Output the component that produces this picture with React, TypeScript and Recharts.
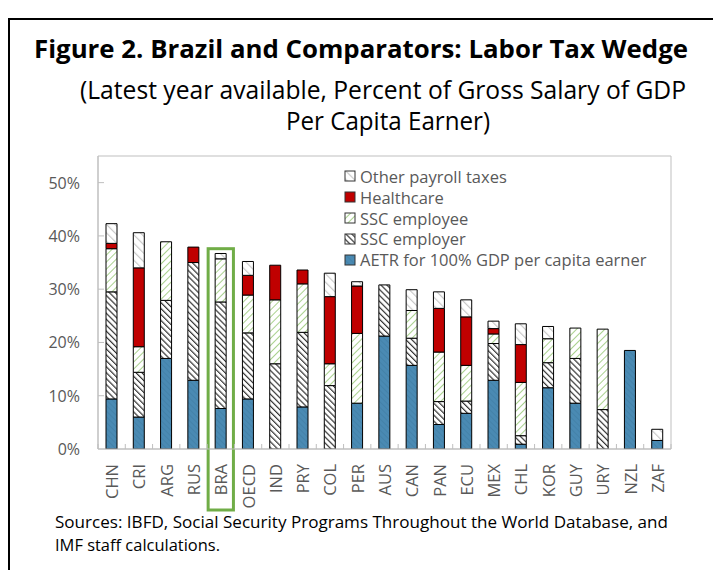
import React from 'react';
import { BarChart, Bar, XAxis, YAxis, Legend, ReferenceArea } from 'recharts';

const categories = ['CHN', 'CRI', 'ARG', 'RUS', 'BRA', 'OECD', 'IND', 'PRY', 'COL', 'PER', 'AUS', 'CAN', 'PAN', 'ECU', 'MEX', 'CHL', 'KOR', 'GUY', 'URY', 'NZL', 'ZAF'];
const aetr = [9.4, 6.0, 17.0, 12.9, 7.6, 9.4, 0, 7.9, 0, 8.6, 21.2, 15.7, 4.6, 6.7, 12.9, 0.9, 11.5, 8.6, 0, 18.5, 1.6];
const sscEmployer = [20.1, 8.4, 10.9, 22.1, 20.0, 12.4, 16.0, 14.0, 11.9, 0, 9.6, 5.1, 4.3, 2.3, 6.9, 1.6, 4.7, 8.4, 7.4, 0, 0];
const sscEmployee = [8.1, 4.8, 11.0, 0, 8.1, 7.1, 12.0, 9.1, 4.1, 13.1, 0, 5.2, 9.3, 6.7, 1.8, 10.0, 4.5, 5.7, 15.1, 0, 0];
const healthcare = [1.0, 14.8, 0, 2.9, 0, 3.7, 6.5, 2.6, 12.6, 8.9, 0, 0, 8.2, 9.1, 1.0, 7.1, 0, 0, 0, 0, 0];
const otherPayroll = [3.7, 6.6, 0, 0, 1.0, 2.6, 0, 0, 4.4, 0.8, 0, 3.9, 3.1, 3.2, 1.4, 3.9, 2.3, 0, 0, 0, 2.1];
const yTicks = [0, 10, 20, 30, 40, 50];
const highlighted = 'BRA';
const highlightTop = 37.6;

const titleLine1 = 'Figure 2. Brazil and Comparators: Labor Tax Wedge';
const titleLine2 = '(Latest year available, Percent of Gross Salary of GDP';
const titleLine3 = 'Per Capita Earner)';
const sourceLine1 = 'Sources: IBFD, Social Security Programs Throughout the World Database, and';
const sourceLine2 = 'IMF staff calculations.';

const series = [
  { key: 'aetr', name: 'AETR for 100% GDP per capita earner', fill: 'url(#pAetr)' },
  { key: 'employer', name: 'SSC employer', fill: 'url(#pEmployer)' },
  { key: 'employee', name: 'SSC employee', fill: 'url(#pEmployee)' },
  { key: 'health', name: 'Healthcare', fill: '#c00000' },
  { key: 'other', name: 'Other payroll taxes', fill: 'url(#pOther)' },
];

const data = categories.map((c, i) => ({
  name: c,
  aetr: aetr[i],
  employer: sscEmployer[i],
  employee: sscEmployee[i],
  health: healthcare[i],
  other: otherPayroll[i],
}));

const W = 713;
const H = 570;
const M = { top: 156, right: 42, left: 0, bottom: 61 };
const Y_AXIS_W = 98;
const X_AXIS_H = 60;
const PLOT_W = W - M.left - M.right - Y_AXIS_W;
const BAND = PLOT_W / categories.length;
const FONT = '"Open Sans", "Noto Sans", sans-serif';
const GRAY = '#595959';
const AXIS = '#bfbfbf';

const XTick = (props: any) => {
  const { x, y, payload, index } = props;
  const half = BAND / 2;
  return (
    <g>
      <line x1={x - half} x2={x - half} y1={y} y2={y - 5} stroke={AXIS} strokeWidth={1} />
      {index === categories.length - 1 && (
        <line x1={x + half} x2={x + half} y1={y} y2={y - 5} stroke={AXIS} strokeWidth={1} />
      )}
      <text
        transform={`translate(${x},${y + 15}) rotate(-90)`}
        textAnchor="end"
        dominantBaseline="central"
        fontFamily={FONT}
        fontSize={16.5}
        fill={GRAY}
      >
        {payload.value}
      </text>
    </g>
  );
};

const YTick = (props: any) => {
  const { x, y, payload } = props;
  return (
    <g>
      {payload.value !== 0 && <line x1={x + 18} x2={x + 24} y1={y} y2={y} stroke={AXIS} strokeWidth={1} />}
      <text x={x} y={y} textAnchor="end" dominantBaseline="central" fontFamily={FONT} fontSize={16} fill={GRAY}>
        {`${payload.value}%`}
      </text>
    </g>
  );
};

const LegendContent = () => {
  const items = [...series].reverse();
  return (
    <div style={{ fontFamily: FONT, fontSize: 16.5, color: GRAY }}>
      {items.map((s) => (
        <div key={s.key} style={{ display: 'flex', alignItems: 'center', height: 20.8, whiteSpace: 'nowrap' }}>
          <svg width={14} height={12} style={{ marginRight: 2 }}>
            <rect x={1} y={1} width={10} height={10} fill={s.fill} stroke="#333" strokeWidth={1} />
          </svg>
          <span>{s.name}</span>
        </div>
      ))}
    </div>
  );
};

const HighlightShape = (props: any) => {
  const { x, y, width, height } = props;
  return (
    <rect
      x={x + 1}
      y={y}
      width={width - 2}
      height={height + 61}
      fill="none"
      stroke="#70ad47"
      strokeWidth={3}
    />
  );
};

export default function App() {
  return (
    <div style={{ position: 'absolute', left: 0, top: 0, width: W, height: H, background: '#fff' }}>
      <svg width={0} height={0} style={{ position: 'absolute' }}>
        <defs>
          <pattern id="pAetr" patternUnits="userSpaceOnUse" width={4} height={4} patternTransform="rotate(-45)">
            <rect width={4} height={4} fill="#4a8ab3" />
            <line x1={0} y1={0} x2={0} y2={4} stroke="#3f7ca3" strokeWidth={1.2} />
          </pattern>
          <pattern id="pEmployer" patternUnits="userSpaceOnUse" width={4.2} height={4.2} patternTransform="rotate(-45)">
            <rect width={4.2} height={4.2} fill="#ffffff" />
            <line x1={0} y1={0} x2={0} y2={4.2} stroke="#333333" strokeWidth={2.4} />
          </pattern>
          <pattern id="pEmployee" patternUnits="userSpaceOnUse" width={5} height={5} patternTransform="rotate(45)">
            <rect width={5} height={5} fill="#ffffff" />
            <line x1={0} y1={0} x2={0} y2={5} stroke="#a9d18e" strokeWidth={2} />
          </pattern>
          <pattern id="pOther" patternUnits="userSpaceOnUse" width={6} height={6} patternTransform="rotate(-45)">
            <rect width={6} height={6} fill="#ffffff" />
            <line x1={0} y1={0} x2={0} y2={6} stroke="#c8c8c8" strokeWidth={2.4} />
          </pattern>
        </defs>
      </svg>
      <div style={{ position: 'absolute', left: 0, top: 0 }}>
        <BarChart width={W} height={H} data={data} margin={M} barSize={11}>
          <XAxis
            dataKey="name"
            interval={0}
            height={X_AXIS_H}
            tickSize={0}
            tickMargin={0}
            tickLine={false}
            axisLine={{ stroke: AXIS, strokeWidth: 1 }}
            tick={<XTick />}
          />
          <YAxis
            width={Y_AXIS_W}
            domain={[0, 55]}
            ticks={yTicks}
            allowDataOverflow
            tickSize={0}
            tickMargin={18}
            tickLine={false}
            axisLine={{ stroke: AXIS, strokeWidth: 1 }}
            tick={<YTick />}
          />
          <ReferenceArea
            x1={categories[0]}
            x2={categories[categories.length - 1]}
            y1={0}
            y2={55}
            fill="none"
            fillOpacity={0}
            stroke={AXIS}
            strokeWidth={1}
            ifOverflow="visible"
          />
          {series.map((s) => (
            <Bar
              key={s.key}
              dataKey={s.key}
              name={s.name}
              stackId="a"
              fill={s.fill}
              stroke="#000"
              strokeWidth={1}
              isAnimationActive={false}
            />
          ))}
          <ReferenceArea
            x1={highlighted}
            x2={highlighted}
            y1={0}
            y2={highlightTop}
            ifOverflow="visible"
            shape={<HighlightShape />}
          />
          <Legend
            layout="vertical"
            align="center"
            verticalAlign="middle"
            content={<LegendContent />}
            wrapperStyle={{ position: 'absolute', left: 344, top: 166, width: 340 }}
          />
        </BarChart>
      </div>
      <svg width={W} height={H} style={{ position: 'absolute', left: 0, top: 0, pointerEvents: 'none' }}>
        <line x1={9} y1={18} x2={9} y2={H} stroke="#000" strokeWidth={2} />
        <line x1={8} y1={19} x2={W} y2={19} stroke="#000" strokeWidth={2} />
        <text x={34} y={58} fontFamily={FONT} fontWeight={700} fontSize={25.5} fill="#000" textLength={654} lengthAdjust="spacingAndGlyphs">
          {titleLine1}
        </text>
        <text x={80} y={99} fontFamily={FONT} fontSize={25} fill="#000" textLength={606} lengthAdjust="spacingAndGlyphs">
          {titleLine2}
        </text>
        <text x={286} y={130} fontFamily={FONT} fontSize={25} fill="#000" textLength={204} lengthAdjust="spacingAndGlyphs">
          {titleLine3}
        </text>
        <text x={55} y={528} fontFamily={FONT} fontSize={15.5} fill="#000" textLength={613} lengthAdjust="spacingAndGlyphs">
          {sourceLine1}
        </text>
        <text x={55} y={551} fontFamily={FONT} fontSize={15.5} fill="#000" textLength={165} lengthAdjust="spacingAndGlyphs">
          {sourceLine2}
        </text>
      </svg>
    </div>
  );
}
